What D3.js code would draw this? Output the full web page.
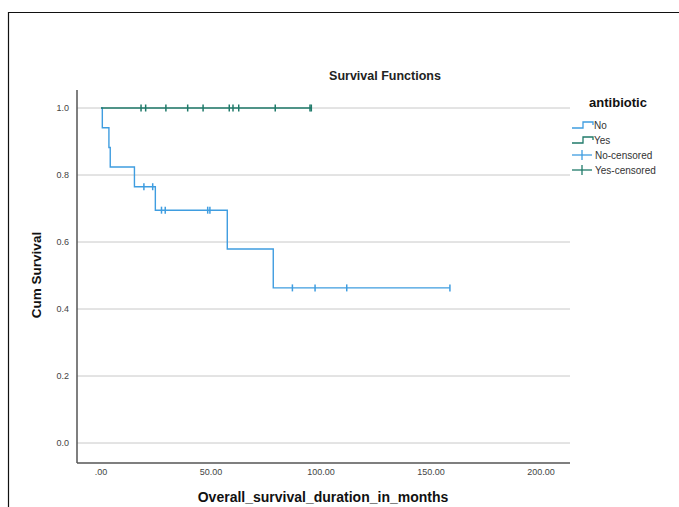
<!DOCTYPE html>
<html><head><meta charset="utf-8">
<script src="https://cdn.jsdelivr.net/npm/d3@7"></script>
<style>body{margin:0;background:#fff}svg{display:block;font-family:"Liberation Sans",Arial,sans-serif}</style>
</head><body>
<script>
// Data
const groups = ["No", "Yes"];
const noStepTimes = [0, 0.6, 3.6, 4.2, 15.2, 24.7, 57.4, 78.3];
const noStepSurv  = [1.0, 0.941, 0.882, 0.824, 0.765, 0.695, 0.579, 0.463];
const noEndTime = 158.6;
const noCensorTimes = [19.5, 23.5, 27.5, 29.2, 48.5, 49.5, 87.0, 97.3, 111.7, 158.6];
const noCensorSurv  = [0.765, 0.765, 0.695, 0.695, 0.695, 0.695, 0.463, 0.463, 0.463, 0.463];
const yesStepTimes = [0];
const yesStepSurv  = [1.0];
const yesEndTime = 95.6;
const yesCensorTimes = [18.2, 20.3, 29.5, 39.4, 46.4, 58.3, 60.0, 62.6, 79.2, 95.0, 95.6];
const yesCensorSurv  = [1, 1, 1, 1, 1, 1, 1, 1, 1, 1, 1];
const xTicks = [0, 50, 100, 150, 200];
const xTickLabels = [".00", "50.00", "100.00", "150.00", "200.00"];
const yTicks = [0, 0.2, 0.4, 0.6, 0.8, 1.0];
const yTickLabels = ["0.0", "0.2", "0.4", "0.6", "0.8", "1.0"];
const legendLabels = ["No", "Yes", "No-censored", "Yes-censored"];

const W = 679, H = 507;
const colors = {No: "#3f9de0", Yes: "#1f7a6a"};
const svg = d3.select("body").append("svg").attr("width", W).attr("height", H);

// outer frame
svg.append("path").attr("d", "M8.5,507 L8.5,12.5 L679,12.5").attr("fill", "none").attr("stroke", "#111").attr("stroke-width", 1.2);

const x = d3.scaleLinear().domain([0, 200]).range([101, 541]);
const y = d3.scaleLinear().domain([0, 1]).range([443, 108]);
const xMin = x.invert(77), xMax = x.invert(570);
const yMin = y.invert(463), yMax = y.invert(90);

// gridlines
svg.append("g").selectAll("line").data(yTicks).join("line")
  .attr("x1", x(xMin)).attr("x2", x(xMax))
  .attr("y1", d => y(d)).attr("y2", d => y(d))
  .attr("stroke", "#c8c8c8").attr("stroke-width", 1);

// axes lines
svg.append("line").attr("x1", x(xMin)).attr("x2", x(xMin)).attr("y1", y(yMax)).attr("y2", y(yMin))
  .attr("stroke", "#555").attr("stroke-width", 1.5);
svg.append("line").attr("x1", x(xMin)).attr("x2", x(xMax)).attr("y1", y(yMin)).attr("y2", y(yMin))
  .attr("stroke", "#555").attr("stroke-width", 1.5);

// tick labels
svg.append("g").selectAll("text").data(xTicks).join("text")
  .attr("x", d => x(d)).attr("y", 475).attr("text-anchor", "middle")
  .attr("font-size", 9).attr("fill", "#444").text((d, i) => xTickLabels[i]);
svg.append("g").selectAll("text").data(yTicks).join("text")
  .attr("x", 69).attr("y", d => y(d) + 3).attr("text-anchor", "end")
  .attr("font-size", 9).attr("fill", "#444").text((d, i) => yTickLabels[i]);

// titles
svg.append("text").attr("x", 385).attr("y", 80).attr("text-anchor", "middle")
  .attr("font-size", 12.5).attr("font-weight", "bold").attr("fill", "#222").text("Survival Functions");
svg.append("text").attr("transform", "translate(41,275) rotate(-90)").attr("text-anchor", "middle")
  .attr("font-size", 13.5).attr("font-weight", "bold").attr("fill", "#111").text("Cum Survival");
svg.append("text").attr("x", 323).attr("y", 502).attr("text-anchor", "middle")
  .attr("font-size", 14).attr("font-weight", "bold").attr("fill", "#111").text("Overall_survival_duration_in_months");

function stepPts(times, surv, end) {
  const pts = [];
  times.forEach((t, i) => {
    if (i > 0) pts.push([t, surv[i - 1]]);
    pts.push([t, surv[i]]);
  });
  pts.push([end, surv[surv.length - 1]]);
  return pts;
}
const line = d3.line().x(d => x(d[0])).y(d => y(d[1]));

function drawGroup(name, times, surv, end, cT, cS) {
  svg.append("path").datum(stepPts(times, surv, end)).attr("d", line)
    .attr("fill", "none").attr("stroke", colors[name]).attr("stroke-width", 1.4);
  svg.append("g").selectAll("line").data(cT).join("line")
    .attr("x1", d => x(d)).attr("x2", d => x(d))
    .attr("y1", (d, i) => y(cS[i]) - 3.5).attr("y2", (d, i) => y(cS[i]) + 3.5)
    .attr("stroke", colors[name]).attr("stroke-width", 1.5);
}
drawGroup("No", noStepTimes, noStepSurv, noEndTime, noCensorTimes, noCensorSurv);
drawGroup("Yes", yesStepTimes, yesStepSurv, yesEndTime, yesCensorTimes, yesCensorSurv);

// legend
svg.append("text").attr("x", 618).attr("y", 107).attr("text-anchor", "middle")
  .attr("font-size", 13).attr("font-weight", "bold").attr("fill", "#111").text("antibiotic");
const lg = svg.append("g");
legendLabels.forEach((lab, i) => {
  const yy = 125 + i * 15;
  const c = i % 2 === 0 ? colors.No : colors.Yes;
  if (i < 2) {
    lg.append("path").attr("d", `M572,${yy + 3} L583,${yy + 3} L583,${yy - 3} L593,${yy - 3} L593,${yy}`)
      .attr("fill", "none").attr("stroke", c).attr("stroke-width", 1.3);
  } else {
    lg.append("line").attr("x1", 572).attr("x2", 592).attr("y1", yy).attr("y2", yy).attr("stroke", c).attr("stroke-width", 1.3);
    lg.append("line").attr("x1", 582).attr("x2", 582).attr("y1", yy - 5).attr("y2", yy + 5).attr("stroke", c).attr("stroke-width", 1.3);
  }
  lg.append("text").attr("x", i < 2 ? 594 : 595).attr("y", yy + 3.5).attr("font-size", 10)
    .attr("fill", "#333").text(lab);
});
</script>
</body></html>
